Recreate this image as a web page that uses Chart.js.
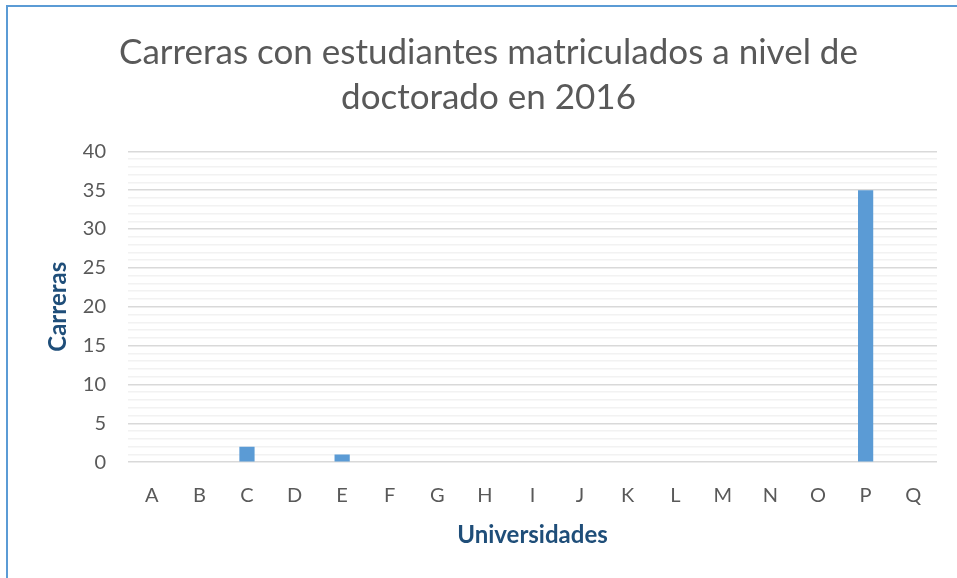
<!DOCTYPE html>
<html lang="es">
<head>
<meta charset="UTF-8">
<title>Carreras doctorado 2016</title>
<script src="https://cdn.jsdelivr.net/npm/chart.js"></script>
<style>
  html,body{margin:0;padding:0;background:#fff}
  .box{position:absolute;left:6px;top:5px;width:951px;height:573px;border-left:2px solid #5b9bd5;border-top:2px solid #5b9bd5}
  .wrap{position:absolute;left:0;top:0;width:957px;height:578px}
</style>
</head>
<body>
<div class="box"></div>
<div class="wrap"><canvas id="chart"></canvas></div>
<script>
const universidades = ['A','B','C','D','E','F','G','H','I','J','K','L','M','N','O','P','Q'];
const carreras = [0,0,2,0,1,0,0,0,0,0,0,0,0,0,0,35,0];
const titulo = ['Carreras con estudiantes matriculados a nivel de','doctorado en 2016'];

const FONT = 'Lato, "Open Sans", sans-serif';

new Chart(document.getElementById('chart'), {
  type: 'bar',
  data: {
    labels: universidades,
    datasets: [{
      data: carreras,
      backgroundColor: '#5b9bd5',
      barPercentage: 0.32,
      categoryPercentage: 1
    }]
  },
  options: {
    responsive: true,
    maintainAspectRatio: false,
    animation: false,
    layout: { padding: { top: 30, left: 40, right: 20, bottom: 28 } },
    plugins: {
      legend: { display: false },
      tooltip: { enabled: false },
      title: {
        display: true,
        text: titulo,
        color: '#595959',
        font: { family: FONT, size: 35, weight: 'normal', lineHeight: 1.29 },
        padding: { top: 0, bottom: 31 }
      }
    },
    scales: {
      x: {
        grid: { display: false },
        border: { display: false },
        ticks: { color: '#595959', font: { family: FONT, size: 20 }, padding: 13 },
        title: {
          display: true, text: 'Universidades', color: '#1f4e79',
          font: { family: FONT, size: 24, weight: 'bold' }, padding: { top: 1, bottom: 0 }
        }
      },
      y: {
        min: 0, max: 40,
        border: { display: false },
        afterFit: s => { s.width = 88; },
        grid: {
          color: c => (c.tick && c.tick.value % 5 === 0) ? '#d9d9d9' : '#f2f2f2',
          lineWidth: 1.5,
          drawTicks: false
        },
        ticks: {
          stepSize: 1, autoSkip: false,
          color: '#595959', font: { family: FONT, size: 20 }, padding: 22,
          callback: v => v % 5 === 0 ? v : ''
        },
        title: {
          display: true, text: 'Carreras', color: '#1f4e79',
          font: { family: FONT, size: 24, weight: 'bold' }, padding: { top: 4, bottom: 8 }
        }
      }
    }
  }
});
</script>
</body>
</html>
